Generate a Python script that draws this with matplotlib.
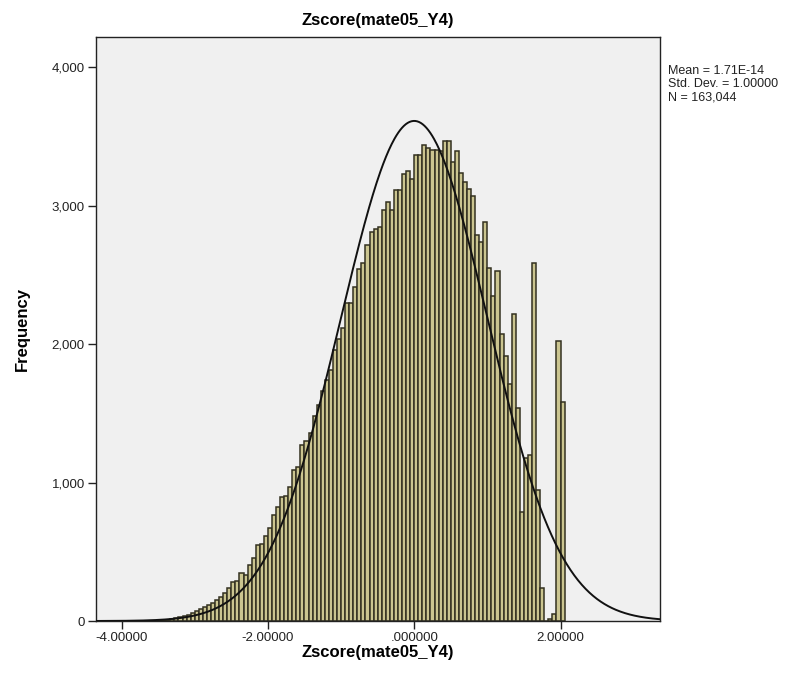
import matplotlib
matplotlib.use("Agg")
import matplotlib.pyplot as plt
import numpy as np

# ---- data ----
title = "Zscore(mate05_Y4)"
x_label = "Zscore(mate05_Y4)"
y_label = "Frequency"
bin_width = 1 / 18
first_edge = 2.0 - 103 / 18
counts = [
    1, 1, 2, 3, 4, 6, 10, 14, 20, 28, 35, 45, 55, 70, 85, 100, 115, 130, 150, 170,
    200, 236, 279, 290, 349, 332, 404, 452, 549, 556, 614, 669, 765, 826, 898, 905,
    965, 1090, 1110, 1270, 1300, 1360, 1480, 1560, 1660, 1740, 1812, 1957, 2041, 2118,
    2300, 2300, 2414, 2540, 2590, 2715, 2810, 2830, 2850, 2968, 3028, 2972, 3112, 3112,
    3227, 3251, 3196, 3370, 3370, 3442, 3420, 3400, 3400, 3395, 3466, 3466, 3320, 3394,
    3237, 3172, 3124, 3069, 2787, 2739, 2883, 2554, 2347, 2527, 2072, 1913, 1709, 2221,
    1540, 787, 1180, 1196, 2590, 950, 240, 0, 15, 50, 2020, 1580,
]
mean_val = 1.71e-14
std_val = 1.0
n_total = 163044
stats_lines = ["Mean = 1.71E-14", "Std. Dev. = 1.00000", "N = 163,044"]
x_ticks = [-4.0, -2.0, 0.0, 2.0]
x_tick_labels = ["-4.00000", "-2.00000", ".000000", "2.00000"]
y_ticks = [0, 1000, 2000, 3000, 4000]
y_tick_labels = ["0", "1,000", "2,000", "3,000", "4,000"]

plt.rcParams["font.family"] = ["Liberation Sans", "DejaVu Sans"]

W, H = 811, 692
fig = plt.figure(figsize=(W / 100, H / 100), dpi=100)
ax = fig.add_axes([96 / W, 1 - 621 / H, (660 - 96) / W, (621 - 37) / H])
ax.set_facecolor("#f0f0f0")

lefts = first_edge + bin_width * np.arange(len(counts))
ax.bar(lefts, counts, width=bin_width, align="edge",
       color="#cbc590", edgecolor="#333120", linewidth=1.1, zorder=2)

xlim = (-4.35, 3.36)
xs = np.linspace(xlim[0], xlim[1], 600)
ys = n_total * bin_width / (std_val * np.sqrt(2 * np.pi)) * np.exp(-0.5 * ((xs - mean_val) / std_val) ** 2)
ax.plot(xs, ys, color="#111111", linewidth=1.4, zorder=3)

ax.set_xlim(*xlim)
ax.set_ylim(0, 4220)
ax.set_xticks(x_ticks)
ax.set_xticklabels(x_tick_labels)
ax.set_yticks(y_ticks)
ax.set_yticklabels(y_tick_labels)
ax.tick_params(axis="both", direction="out", length=6, width=1.0, labelsize=9.5,
               colors="#222222", pad=2)
for s in ("left", "bottom", "top", "right"):
    ax.spines[s].set_linewidth(1.0)
    ax.spines[s].set_color("#222222")

ax.set_title(title, fontsize=12, fontweight="bold", pad=9)
ax.set_xlabel(x_label, fontsize=12, fontweight="bold", labelpad=1)
ax.set_ylabel(y_label, fontsize=12, fontweight="bold", labelpad=16)

fig.text(668 / W, 1 - 65 / H, "\n".join(stats_lines), fontsize=9,
         va="top", ha="left", linespacing=1.12, color="#222222")

fig.savefig("out.png", dpi=100, facecolor="white")
